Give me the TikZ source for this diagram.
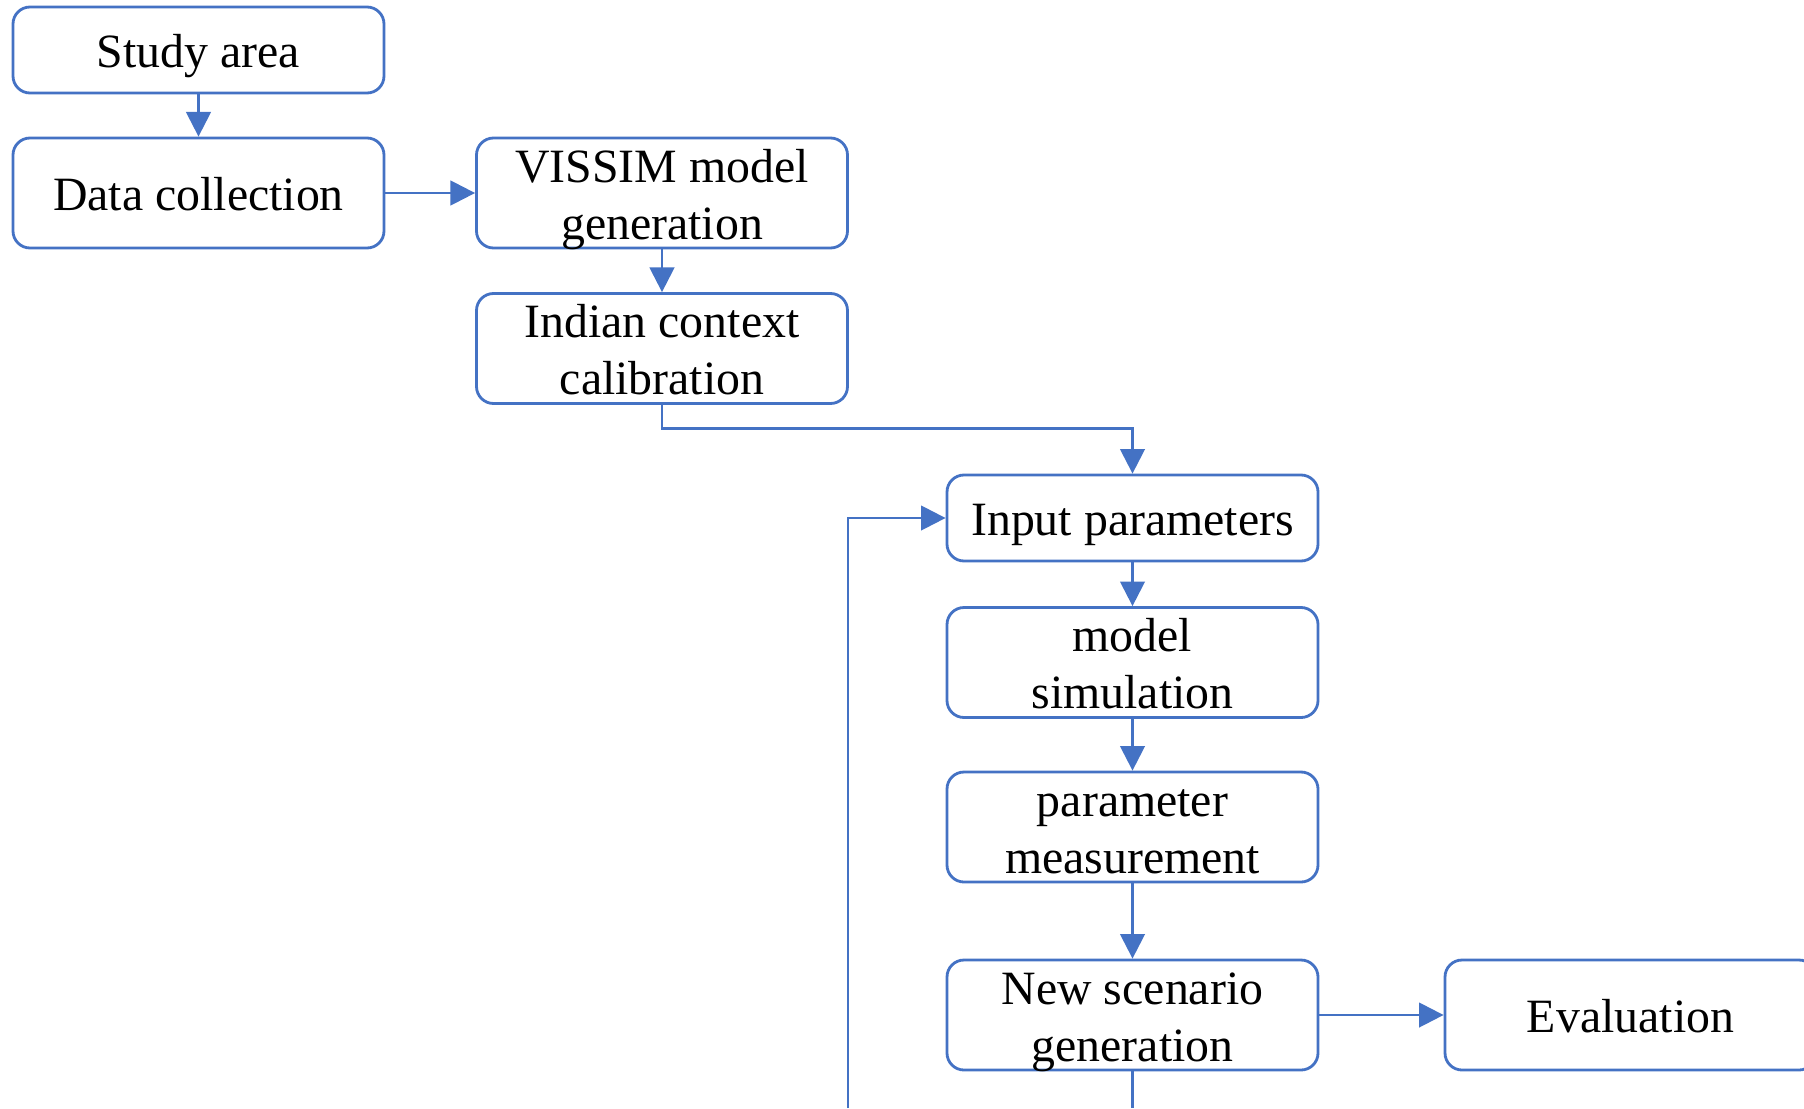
\documentclass[tikz,border=0pt]{standalone}
\usepackage{fontspec}
\setmainfont{Liberation Serif}
\usetikzlibrary{arrows.meta}
\definecolor{officeblue}{rgb}{0.266667, 0.447059, 0.768627}
\tikzset{box/.style={draw=officeblue, line width=0.8pt, rounded corners=0.17cm, minimum width=3.71cm, minimum height=1.10cm, inner sep=0pt, text height=0.35cm, text depth=0cm, align=center, font=\fontsize{13.6}{16.2}\selectfont}}
\tikzset{twobox/.style={box, text height=0.92cm}}
\tikzset{flow/.style={line width=0.7pt, color=officeblue, -{Triangle[length=7pt, width=7pt]}}}
\tikzset{line/.style={line width=0.7pt, color=officeblue}}

\begin{document}
\begin{tikzpicture}
        \useasboundingbox (0,0) rectangle (18.04,-11.08);

        \node[box, minimum height=0.86cm] (Study) at (1.985, -0.50) {Study area};
        \node[box] (Data) at (1.985, -1.93) {Data collection};
        \node[twobox] (Vissim) at (6.62, -1.93) {VISSIM model\\generation};
        \node[twobox] (Indian) at (6.62, -3.485) {Indian context\\calibration};

        \node[box, minimum height=0.86cm] (Input) at (11.325, -5.18) {Input parameters};
        \node[twobox] (Sim) at (11.325, -6.625) {model\\simulation};
        \node[twobox] (Meas) at (11.325, -8.27) {parameter\\measurement};
        \node[twobox] (New) at (11.325, -10.15) {New scenario\\generation};
        \node[box] (Eval) at (16.305, -10.15) {Evaluation};

        \coordinate (Nout) at (11.325, -11.08);
        \coordinate (Back) at (8.48, -11.08);

        \draw [flow] (Study) -- (Data);
        \draw [flow] (Data) -- (Vissim);
        \draw [flow] (Vissim) -- (Indian);
        \draw [flow] (Indian.south) -- ++(0,-0.235) -| (Input.north);
        \draw [flow] (Input) -- (Sim);
        \draw [flow] (Sim) -- (Meas);
        \draw [flow] (Meas) -- (New);
        \draw [flow] (New) -- (Eval);
        \draw [line] (New) -- (Nout);
        \draw [flow] (Back) |- (Input.west);
\end{tikzpicture}
\end{document}
